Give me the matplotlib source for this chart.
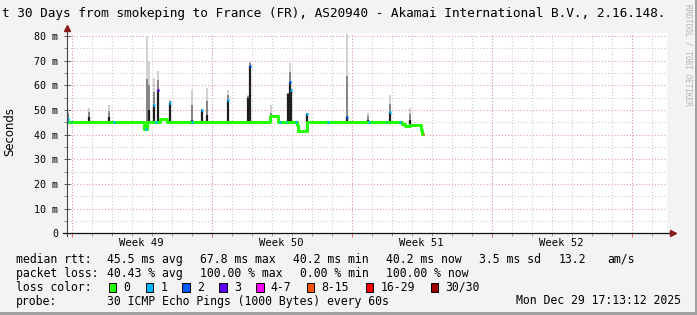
import numpy as np
import matplotlib.pyplot as plt
from matplotlib.patches import Rectangle

# -----------------------------
# Config
# -----------------------------
W, H = 697, 315
MONO = "DejaVu Sans Mono"
BG = "#f3f3f3"

TITLE = "t 30 Days from smokeping to France (FR), AS20940 - Akamai International B.V., 2.16.148."

# time axis: days since Sat Nov 29 17:13:12 (30 days window)
N_DAYS = 30
DAY_OFFSET = 0.24          # first midnight after window start
WEEK_LABELS = ["Week 49", "Week 50", "Week 51", "Week 52"]

# median rtt (ms), step function, loss 0
MED_T = [0.00, 3.85, 3.98, 4.65, 5.00, 10.15, 10.55, 11.50, 11.55, 11.98,
         16.73, 16.90, 17.15, 17.68, 17.75, 17.85]
MED_V = [45.0, 42.3, 45.0, 46.2, 45.0, 47.7, 45.0, 44.0, 41.3, 45.0,
         44.5, 43.7, 44.0, 42.0, 40.2, 40.2]

# spikes: time (days), dark smoke top (ms), smoke top (ms), loss class at median top
SPIKE_T = [0.05, 1.10, 2.10, 3.98, 4.10, 4.35, 4.53, 5.15, 6.25, 6.73, 6.98,
           8.05, 9.05, 9.15, 10.20, 11.05, 11.15, 11.20, 11.98, 13.98, 15.03,
           16.15, 17.15]
SPIKE_DARK = [46.5, 47.3, 47.3, 45.0, 50.0, 52.0, 58.0, 53.0, 46.0, 50.0, 48.0,
              54.0, 55.0, 67.8, 46.0, 56.5, 61.5, 58.0, 48.4, 47.0, 46.0,
              49.3, 46.0]
SPIKE_SMOKE = [51.0, 51.0, 52.0, 80.0, 70.0, 63.0, 66.0, 54.0, 58.0, 50.5, 59.0,
               58.0, 56.0, 70.0, 52.0, 57.0, 69.0, 59.0, 49.0, 81.0, 49.0,
               56.0, 51.0]
SPIKE_LOSS = [1, 0, 0, 0, 0, 1, 3, 1, 0, 1, 0,
              1, 0, 2, 0, 0, 2, 1, 1, 2, 0,
              1, 0]

# short median segments with 1/30 loss
LOSS1_T = [0.02, 0.23, 2.35, 3.95, 4.45, 6.25, 10.65, 10.98, 11.45, 13.05,
           15.10, 15.98, 16.65]
LAST_LOSS_T = [17.80]       # final segment (8-15 loss)

LOSS_NAMES = ["0", "1", "2", "3", "4-7", "8-15", "16-29", "30/30"]
LOSS_COLORS = ["#26ff00", "#00b8ff", "#0059ff", "#5e00ff",
               "#ff00ff", "#ff5500", "#ff0000", "#a00000"]

STATS_RTT = ["45.5 ms avg", "67.8 ms max", "40.2 ms min", "40.2 ms now", "3.5 ms sd", "13.2", "am/s"]
STATS_LOSS = ["40.43 % avg", "100.00 % max", "0.00 % min", "100.00 % now"]
PROBE = "30 ICMP Echo Pings (1000 Bytes) every 60s"
STAMP = "Mon Dec 29 17:13:12 2025"


def px(x, y):
    return x / W, 1 - y / H


def ftext(x, y, s, **kw):
    kw.setdefault("family", MONO)
    kw.setdefault("fontsize", 8.3)
    kw.setdefault("va", "center")
    fx, fy = px(x, y)
    fig.text(fx, fy, s, **kw)


def median_at(t):
    i = np.searchsorted(MED_T, t, side="right") - 1
    return MED_V[max(i, 0)]


fig = plt.figure(figsize=(W / 100, H / 100), dpi=100, facecolor=BG)

# plot area
top_px, bot_px, left_px, right_px = 33.0, 233.3, 67.0, 667.0
ymax = (bot_px - top_px) / 2.465
ax = fig.add_axes([left_px / W, (H - bot_px) / H, (right_px - left_px) / W, (bot_px - top_px) / H])
ax.set_facecolor("white")
ax.set_xlim(0, N_DAYS)
ax.set_ylim(0, ymax)
for s in ax.spines.values():
    s.set_visible(False)

# grid
day_ticks = np.arange(DAY_OFFSET, N_DAYS, 1.0)
week_ticks = day_ticks[::7]
for d in day_ticks:
    ax.axvline(d, color="#c8c8c8", lw=0.75, ls=(0, (1, 2)), zorder=0)
for d in week_ticks:
    ax.axvline(d, color="#e59a9a", lw=0.75, ls=(0, (1, 2)), zorder=0.5)
for v in np.arange(5, 81, 10):
    ax.axhline(v, color="#c8c8c8", lw=0.75, ls=(0, (1, 2)), zorder=0)
for v in np.arange(10, 81, 10):
    ax.axhline(v, color="#e59a9a", lw=0.75, ls=(0, (1, 2)), zorder=0.5)

# ticks
ax.set_yticks(np.arange(0, 81, 10))
ax.set_yticklabels(["0"] + ["%d m" % v for v in range(10, 81, 10)], family=MONO, fontsize=7.2)
ax.set_yticks(np.arange(5, 81, 10), minor=True)
ax.tick_params(axis="y", which="major", direction="inout", length=5, width=0.7, color="#555555", pad=4)
ax.tick_params(axis="y", which="minor", direction="out", length=2, width=0.7, color="#888888")
ax.set_xticks(week_ticks)
ax.set_xticks(day_ticks, minor=True)
ax.set_xticklabels([])
ax.tick_params(axis="x", which="major", direction="out", length=3, width=0.7, color="#e06060")
ax.tick_params(axis="x", which="minor", direction="out", length=2, width=0.7, color="#999999")
for i, lab in enumerate(WEEK_LABELS):
    xc = week_ticks[i] + 3.5
    ax.text(xc, -9.6 / 2.465, lab, family=MONO, fontsize=7.6, ha="center", va="center",
            transform=ax.transData, clip_on=False)

# smoke + spikes
for t, dk, sm, ls in zip(SPIKE_T, SPIKE_DARK, SPIKE_SMOKE, SPIKE_LOSS):
    base = median_at(t)
    mid = dk + (sm - dk) * 0.5
    ax.vlines(t, dk, mid, color="#7a7a7a", lw=1.3, zorder=2)
    ax.vlines(t, mid, sm, color="#cdcdcd", lw=1.3, zorder=2)
    if dk > base:
        ax.vlines(t, base, dk, color="#1e1e1e", lw=1.6, zorder=3)
    if ls > 0:
        ax.plot([t - 0.045, t + 0.045], [dk, dk], color=LOSS_COLORS[ls], lw=2.0,
                solid_capstyle="butt", zorder=4)

# median line
ax.plot(MED_T, MED_V, drawstyle="steps-post", color=LOSS_COLORS[0], lw=2.2,
        solid_capstyle="butt", zorder=3.5)
for t in LOSS1_T:
    v = median_at(t)
    ax.plot([t - 0.04, t + 0.04], [v, v], color=LOSS_COLORS[1], lw=2.2,
            solid_capstyle="butt", zorder=3.6)
for t in LAST_LOSS_T:
    v = median_at(t)
    ax.plot([t, MED_T[-1]], [v, v], color=LOSS_COLORS[5], lw=2.2,
            solid_capstyle="butt", zorder=3.6)

# axis lines with arrows
ax.plot([0, 0], [-1.2, ymax + 1.6], color="#444444", lw=0.8, clip_on=False, zorder=5)
ax.plot([-0.2, N_DAYS + 0.25], [0, 0], color="#111111", lw=0.9, clip_on=False, zorder=5)
ax.plot([0], [ymax + 1.9], marker="^", ms=5, color="#8b1c1c", clip_on=False, zorder=6)
ax.plot([N_DAYS + 0.3], [0], marker=">", ms=5, color="#8b1c1c", clip_on=False, zorder=6)

# labels and title
ftext(10, 131.7, "Seconds", family="DejaVu Sans", fontsize=8.4, rotation=90, ha="center")
ftext(2, 13, TITLE, fontsize=9.2, ha="left")
ftext(688, 4, "RRDTOOL / TOBI OETIKER", fontsize=5.6, rotation=270, ha="center", va="top",
      color="#b4b4b4")

# legend block
rtt_x = [107, 200, 293, 386, 479, 559, 607]
loss_x = [107, 200, 300, 386]
ftext(16, 259.3, "median rtt:", ha="left")
for x, s in zip(rtt_x, STATS_RTT):
    ftext(x, 259.3, s, ha="left")
ftext(16, 273.3, "packet loss:", ha="left")
for x, s in zip(loss_x, STATS_LOSS):
    ftext(x, 273.3, s, ha="left")
ftext(16, 287.3, "loss color:", ha="left")
sq_x = [108.5, 145.7, 182.3, 219.3, 256.0, 306.8, 365.7, 430.7]
for x, c, n in zip(sq_x, LOSS_COLORS, LOSS_NAMES):
    fx, fy = px(x, 291.7)
    fig.add_artist(Rectangle((fx, fy), 7.5 / W, 8.8 / H, transform=fig.transFigure,
                             facecolor=c, edgecolor="black", lw=0.7))
    ftext(x + 14.5, 287.3, n, ha="left")
ftext(16, 301, "probe:", ha="left")
ftext(107, 301, PROBE, ha="left")
ftext(680.5, 301, STAMP, ha="right")

# frame shadow
fig.add_artist(Rectangle(px(694.5, 315), 2.5 / W, 1, transform=fig.transFigure,
                         facecolor="#a2a2a2", edgecolor="none"))
fig.add_artist(Rectangle(px(0, 315), 1, 3.2 / H, transform=fig.transFigure,
                         facecolor="#a2a2a2", edgecolor="none"))

fig.savefig("out.png", dpi=100, facecolor=BG)
